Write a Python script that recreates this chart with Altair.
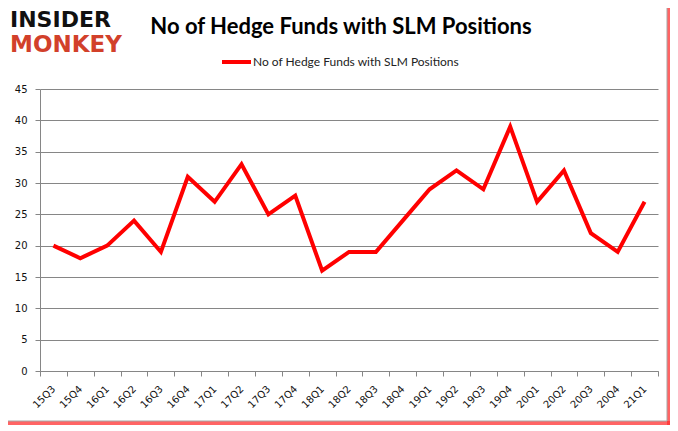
import altair as alt
import pandas as pd

quarters = ["15Q3", "15Q4", "16Q1", "16Q2", "16Q3", "16Q4", "17Q1", "17Q2", "17Q3", "17Q4",
            "18Q1", "18Q2", "18Q3", "18Q4", "19Q1", "19Q2", "19Q3", "19Q4", "20Q1", "20Q2",
            "20Q3", "20Q4", "21Q1"]
funds = [20, 18, 20, 24, 19, 31, 27, 33, 25, 28, 16, 19, 19, 24, 29, 32, 29, 39, 27, 32, 22, 19, 27]
y_ticks = [0, 5, 10, 15, 20, 25, 30, 35, 40, 45]

series_name = "No of Hedge Funds with SLM Positions"
title_text = "No of Hedge Funds with SLM Positions"

df = pd.DataFrame({"quarter": quarters, "funds": funds})
one = alt.Data(values=[{"a": 1}])

shadow_bottom = alt.Chart(one).mark_rect(fill="#ff3030", opacity=0.75).encode(
    x=alt.value(-32), x2=alt.value(630), y=alt.value(332), y2=alt.value(336))
shadow_right = alt.Chart(one).mark_rect(fill="#ff3030", opacity=0.75).encode(
    x=alt.value(627), x2=alt.value(630), y=alt.value(-84), y2=alt.value(336))
frame = alt.Chart(one).mark_rect(fill="transparent", stroke="#a6a6a6", strokeWidth=1).encode(
    x=alt.value(-35), x2=alt.value(627), y=alt.value(-87), y2=alt.value(332))

line = alt.Chart(df).mark_line(color="#ff0000", strokeWidth=4).encode(
    x=alt.X("quarter:N", sort=quarters, bandPosition=0.5,
            scale=alt.Scale(type="band", paddingInner=0, paddingOuter=0),
            axis=alt.Axis(title=None, labelAngle=-45, labelAlign="right", labelBaseline="middle",
                          tickBand="extent", grid=False, domainColor="#868686", tickColor="#868686",
                          tickSize=5, labelPadding=11, labelFont="DejaVu Sans", labelFontSize=10,
                          labelColor="#111111")),
    y=alt.Y("funds:Q", scale=alt.Scale(domain=[0, 45], nice=False),
            axis=alt.Axis(title=None, values=y_ticks, grid=True, gridColor="#868686",
                          domainColor="#868686", tickColor="#868686", tickSize=5,
                          labelPadding=8, labelFont="DejaVu Sans", labelFontSize=10,
                          labelColor="#111111")),
)

title = alt.Chart(one).mark_text(font="Lato", fontSize=22, fontWeight="bold", align="center",
                                 baseline="alphabetic", color="#000000").encode(
    x=alt.value(301), y=alt.value(-55), text=alt.value(title_text))

legend_line = alt.Chart(one).mark_rule(color="#ff0000", strokeWidth=4).encode(
    x=alt.value(182), x2=alt.value(211), y=alt.value(-27))
legend_text = alt.Chart(one).mark_text(font="Lato", fontSize=12, align="left", baseline="middle",
                                       color="#222222").encode(
    x=alt.value(213), y=alt.value(-27), text=alt.value(series_name))

logo1 = alt.Chart(one).mark_text(font="DejaVu Sans", fontSize=22, fontWeight="bold", align="left",
                                 baseline="alphabetic", color="#111111").encode(
    x=alt.value(-30), y=alt.value(-62), text=alt.value("INSIDER"))
logo2 = alt.Chart(one).mark_text(font="DejaVu Sans", fontSize=23, fontWeight="bold", align="left",
                                 baseline="alphabetic", color="#d2402a").encode(
    x=alt.value(-30), y=alt.value(-37), text=alt.value("MONKEY"))

chart = alt.layer(shadow_bottom, shadow_right, frame, line, title, legend_line, legend_text,
                  logo1, logo2).properties(
    width=618, height=282,
    autosize=alt.AutoSizeParams(type="none"),
    padding={"left": 32, "top": 81, "right": 12, "bottom": 56},
    background="white",
).configure_view(strokeWidth=0)

chart.save("out.html", embed_options={"renderer": "svg", "actions": False})
